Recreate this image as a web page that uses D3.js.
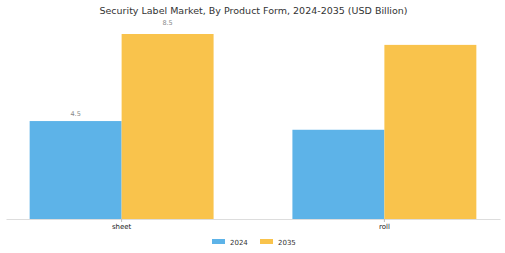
<!DOCTYPE html>
<html><head><meta charset="utf-8">
<script src="https://cdn.jsdelivr.net/npm/d3@7"></script>
<style>body{margin:0;background:#fff;}svg{display:block;font-family:"DejaVu Sans",sans-serif;}</style>
</head><body>
<svg id="c" width="505" height="253"></svg>
<script>
const categories = ["sheet", "roll"];
const seriesNames = ["2024", "2035"];
const values2024 = [4.5, 4.1];
const values2035 = [8.5, 8.0];
const labels2024 = ["4.5", null];
const labels2035 = ["8.5", null];
const colors = ["#5db3e8", "#f9c34c"];

const svg = d3.select("#c");
const W = 505, H = 253;
const baseY = 219;
const x0 = d3.scaleBand().domain(categories).range([6, 500]).paddingInner(0.3).paddingOuter(0.09);
const x1 = d3.scaleBand().domain(seriesNames).range([0, x0.bandwidth()]);
const y = d3.scaleLinear().domain([0, 8.5]).range([baseY, 34]);

svg.append("text").attr("x", W/2 + 1).attr("y", 13.5).attr("text-anchor", "middle")
  .attr("font-size", 9.5).attr("fill", "#333").text("Security Label Market, By Product Form, 2024-2035 (USD Billion)");

const series = [values2024, values2035];
const labs = [labels2024, labels2035];
const labOffset = [5.5, 9.5];
series.forEach((vals, si) => {
  svg.append("g").selectAll("rect").data(categories).join("rect")
    .attr("x", d => x0(d) + x1(seriesNames[si]))
    .attr("y", (d, i) => y(vals[i]))
    .attr("width", x1.bandwidth())
    .attr("height", (d, i) => baseY - y(vals[i]))
    .attr("fill", colors[si]);
  svg.append("g").selectAll("text").data(categories.filter((d,i)=>labs[si][i]!=null)).join("text")
    .attr("x", d => x0(d) + x1(seriesNames[si]) + x1.bandwidth()/2)
    .attr("y", d => y(vals[categories.indexOf(d)]) - labOffset[si])
    .attr("text-anchor", "middle").attr("font-size", 6.5).attr("fill", "#888")
    .text(d => labs[si][categories.indexOf(d)]);
});

const ax = svg.append("g").attr("transform", `translate(0,${baseY})`)
  .call(d3.axisBottom(x0).tickSize(3).tickSizeOuter(0));
ax.select(".domain").attr("stroke", "#ddd");
ax.selectAll(".tick line").attr("stroke", "#bbb");
ax.selectAll(".tick text").attr("font-size", 7).attr("fill", "#222").attr("dy", "0.6em")
  .attr("font-family", "DejaVu Sans");

const leg = svg.append("g");
const legX = [212, 260];
seriesNames.forEach((s, i) => {
  leg.append("rect").attr("x", legX[i]).attr("y", 239).attr("width", 13).attr("height", 5).attr("fill", colors[i]);
  leg.append("text").attr("x", legX[i] + 18).attr("y", 244.5).attr("font-size", 7).attr("fill", "#333").text(s);
});
</script>
</body></html>
